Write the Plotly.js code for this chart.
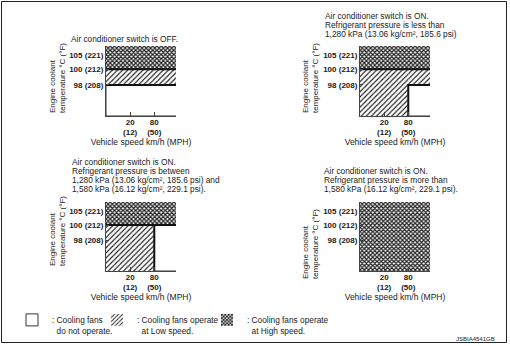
<!DOCTYPE html>
<html><head><meta charset="utf-8">
<script src="https://cdn.plot.ly/plotly-3.0.1.min.js"></script>
<style>html,body{margin:0;padding:0;background:#fff}#chart{width:510px;height:346px}</style>
</head><body><div id="chart"></div>
<script>
// ---- data ----
const speedKmh = [20, 80];
const speedMph = [12, 50];
const tempC = [98, 100, 105];
const tempF = [208, 212, 221];
const tempLevel = [2, 3, 3.9];        // schematic (non-proportional) diagram level of each temperature

const panelTitles = [
  ['Air conditioner switch is OFF.'],
  ['Air conditioner switch is ON.', 'Refrigerant pressure is less than', '1,280 kPa (13.06 kg/cm\u00b2, 185.6 psi)'],
  ['Air conditioner switch is ON.', 'Refrigerant pressure is between', '1,280 kPa (13.06 kg/cm\u00b2, 185.6 psi) and', '1,580 kPa (16.12 kg/cm\u00b2, 229.1 psi).'],
  ['Air conditioner switch is ON.', 'Refrigerant pressure is more than', '1,580 kPa (16.12 kg/cm\u00b2, 229.1 psi).']
];
// fan-mode boundaries for each panel (°C / km/h); null = not present
const highFromTemp  = [100, 100, 100, -Infinity];   // high speed at or above this temperature (all speeds)
const lowFromTemp   = [98, 98, null, null];         // low speed from this temperature (all speeds)
const lowBelowSpeed = [null, 80, 80, null];         // low speed at any temperature below this vehicle speed

const legendNames = [
  ': Cooling fans<br>\u00a0\u00a0do not operate.',
  ': Cooling fans operate<br>\u00a0\u00a0at Low speed.',
  ': Cooling fans operate<br>\u00a0\u00a0at High speed.'
];
const yTitle = 'Engine coolant<br>temperature \u00b0C (\u00b0F)';
const xTitle = 'Vehicle speed km/h (MPH)';
const figCode = 'JSBIA4541GB';

// ---- layout geometry (px) ----
const W = 510, H = 346;
const boxL = [106, 360, 106, 360], boxT = [46, 46, 202, 202], boxW = 70, boxH = [70, 70, 69, 69];
const titleX = [69, 323, 70, 322], titleMid = [39, 25, 175.5, 180], lineGap = 9.3;
const yTitleX = [57, 310, 57, 310], yTitleBottom = [115, 115, 268, 281];
const XMAX = 2.9, YMAX = 4.5, FAR = 10;

const FONT = 'Liberation Sans, Arial, Helvetica, sans-serif';
const INK = '#1a1a1a';
const px = v => v / W, py = v => 1 - v / H;

function speedPos(v) { return v === Infinity ? FAR : (v === 0 ? 0 : speedKmh.indexOf(v) + 1); }
function tempPos(v) { return v === Infinity ? FAR : (v === -Infinity ? 0 : tempLevel[tempC.indexOf(v)]); }

const patLow  = {shape: '/', size: 3.6, solidity: 0.33, fgcolor: '#222', bgcolor: '#fff'};
const patHigh = {shape: 'x', size: 3, solidity: 0.66, fgcolor: '#262626', bgcolor: '#fff'};

const traces = [];
const layout = {
  width: W, height: H, margin: {l: 0, r: 0, t: 0, b: 0},
  paper_bgcolor: '#fff', plot_bgcolor: 'rgba(0,0,0,0)',
  font: {family: FONT, size: 8.5, color: INK},
  barmode: 'overlay', hovermode: false, showlegend: true,
  annotations: [], shapes: []
};

function zone(i, s0, s1, t0, t1, pattern, kind, showLeg) {
  const ax = i === 0 ? '' : String(i + 1);
  const xa = speedPos(s0), xb = speedPos(s1), ya = tempPos(t0), yb = tempPos(t1);
  const legIdx = kind === 'off' ? 0 : (kind === 'low' ? 1 : 2);
  traces.push({
    type: 'bar', xaxis: 'x' + ax, yaxis: 'y' + ax,
    x: [xa], width: [xb - xa], offset: 0, base: [ya], y: [yb - ya],
    marker: {color: '#fff', pattern: pattern || undefined,
             line: kind === 'off' ? {color: '#333', width: 1} : {width: 0}},
    name: legendNames[legIdx], legend: legIdx === 0 ? 'legend' : 'legend' + (legIdx + 1),
    legendgroup: kind, showlegend: !!showLeg
  });
}
function edge(i, sArr, tArr) {
  const ax = i === 0 ? '' : String(i + 1);
  traces.push({
    type: 'scatter', mode: 'lines', xaxis: 'x' + ax, yaxis: 'y' + ax,
    x: sArr.map(speedPos), y: tArr.map(tempPos),
    line: {color: '#111', width: 2}, showlegend: false
  });
}

const seen = {};
const first = k => { if (seen[k]) return false; seen[k] = true; return true; };
for (let i = 0; i < 4; i++) {
  const hi = highFromTemp[i], lo = lowFromTemp[i], ls = lowBelowSpeed[i];
  if (hi !== -Infinity) {
    const offTop = lo !== null ? lo : hi;
    const offLeft = ls !== null ? ls : 0;
    zone(i, offLeft, Infinity, -Infinity, offTop, null, 'off', first('off'));
  }
  if (ls !== null) zone(i, 0, ls, -Infinity, hi, patLow, 'low', first('low'));
  if (lo !== null) zone(i, ls !== null ? ls : 0, Infinity, lo, hi, patLow, 'low', first('low'));
  zone(i, 0, Infinity, hi, Infinity, patHigh, 'high', first('high'));
  if (hi !== -Infinity) {
    edge(i, [0, Infinity], [hi, hi]);
    const offTop = lo !== null ? lo : hi;
    if (ls !== null) edge(i, [ls, ls, Infinity], [-Infinity, offTop, offTop]);
    else if (lo !== null) edge(i, [0, Infinity], [lo, lo]);
  }
}

for (let i = 0; i < 4; i++) {
  const ax = i === 0 ? '' : String(i + 1);
  layout['xaxis' + ax] = {
    domain: [px(boxL[i]), px(boxL[i] + boxW)], anchor: 'y' + ax, range: [0, XMAX],
    showline: true, linecolor: '#444', linewidth: 1, showgrid: false, zeroline: false,
    ticks: 'inside', ticklen: 4, tickcolor: '#444', tickwidth: 1,
    tickmode: 'array', tickvals: speedKmh.map(speedPos),
    ticktext: speedKmh.map((k, j) => k + '<br>(' + speedMph[j] + ')'),
    tickfont: {size: 8, weight: 'bold', color: INK}, ticklabelstandoff: -2,
    title: {text: xTitle, font: {size: 8.5, color: INK}, standoff: 1},
    fixedrange: true, layer: 'above traces'
  };
  layout['yaxis' + ax] = {
    domain: [py(boxT[i] + boxH[i]), py(boxT[i])], anchor: 'x' + ax, range: [0, YMAX],
    showline: true, linecolor: '#444', linewidth: 1, showgrid: false, zeroline: false,
    ticks: 'inside', ticklen: 3, tickcolor: '#444',
    tickmode: 'array', tickvals: tempLevel,
    ticktext: tempC.map((c, j) => c + ' (' + tempF[j] + ')'),
    tickfont: {size: 8, weight: 'bold', color: INK},
    fixedrange: true, layer: 'above traces'
  };
  const n = panelTitles[i].length;
  panelTitles[i].forEach((t, j) => layout.annotations.push({
    xref: 'paper', yref: 'paper', x: px(titleX[i]), y: py(titleMid[i] + (j - (n - 1) / 2) * lineGap),
    xanchor: 'left', yanchor: 'middle', showarrow: false, text: t, font: {size: 8.3, color: INK}
  }));
  layout.annotations.push({
    xref: 'paper', yref: 'paper', x: px(yTitleX[i]), y: py(yTitleBottom[i]),
    xanchor: 'center', yanchor: 'bottom', showarrow: false, textangle: -90, align: 'left',
    text: yTitle, font: {size: 8, color: INK}
  });
}
layout.annotations.push({
  xref: 'paper', yref: 'paper', x: px(497), y: py(339), xanchor: 'right', yanchor: 'middle',
  showarrow: false, text: figCode, font: {size: 6, color: INK}
});
layout.shapes.push({type: 'rect', xref: 'paper', yref: 'paper', x0: px(1.5), x1: px(506.5), y0: py(342.5), y1: py(1.5),
  line: {color: '#222', width: 1}, fillcolor: 'rgba(0,0,0,0)'});

const legBase = {orientation: 'v', yanchor: 'top', xanchor: 'left', valign: 'top', bgcolor: 'rgba(0,0,0,0)',
  font: {size: 8.3, color: INK}, itemwidth: 30, tracegroupgap: 0};
layout.legend  = Object.assign({}, legBase, {x: px(12), y: py(308)});
layout.legend2 = Object.assign({}, legBase, {x: px(97), y: py(308)});
layout.legend3 = Object.assign({}, legBase, {x: px(207), y: py(308)});

Plotly.newPlot('chart', traces, layout, {staticPlot: true, displayModeBar: false});
</script></body></html>
